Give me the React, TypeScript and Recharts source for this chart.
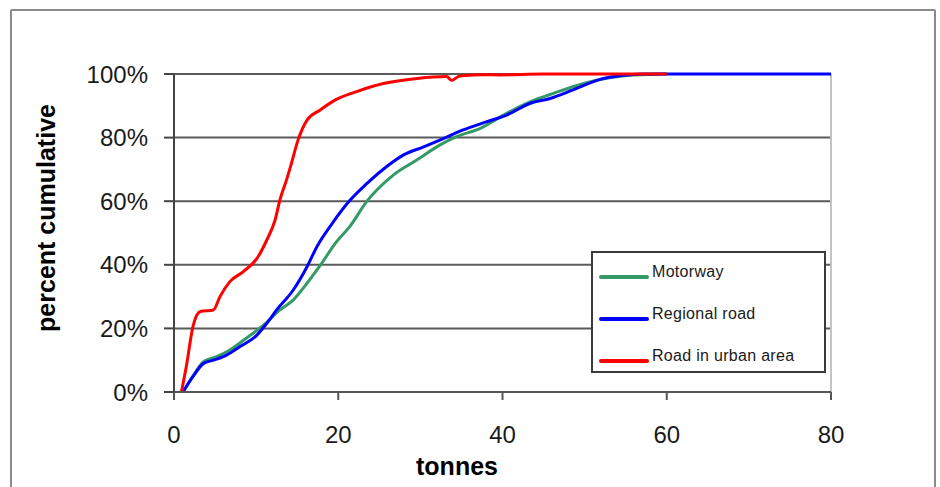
import React from "react";
import {
  LineChart,
  Line,
  XAxis,
  YAxis,
  CartesianGrid,
  Legend,
  Label,
  ReferenceLine,
} from "recharts";

// cumulative distribution of vehicle weight per road type
const motorwayTonnes = [1.1, 2.3, 3.6, 5.2, 6.8, 8.8, 10.9, 12.9, 14.5, 16.2, 17.8, 19.8, 21.4, 23.5, 26.7, 29.6, 32.4, 34.4, 37.3, 40.5, 43.4, 46.2, 49.9, 53, 56, 60];
const motorwayPct = [0, 5, 9.5, 11.1, 13.2, 16.9, 21, 25.8, 28.9, 34.2, 39.8, 47.3, 52, 60, 68.2, 73, 77.7, 80.3, 82.9, 87.6, 91.3, 93.9, 97, 98.8, 99.7, 100];

const regionalTonnes = [1.1, 2.3, 3.6, 4.8, 6.4, 8, 10.1, 11.3, 12.5, 14.5, 16.2, 17.4, 19.4, 21.4, 23.5, 25.9, 27.9, 30.4, 32.8, 35.2, 38.1, 40.5, 43.4, 45.8, 48.6, 51.9, 54.5, 57, 80];
const regionalPct = [0, 4.8, 9, 10, 11.6, 14.2, 17.9, 21.6, 25.8, 32, 39.4, 45.7, 53.5, 60.2, 65.6, 70.9, 74.5, 77.1, 79.7, 82.4, 85, 87.1, 90.8, 92.3, 95, 98.3, 99.5, 100, 100];

const urbanTonnes = [0.9, 1.5, 2.3, 3.2, 4.8, 5.6, 6.8, 8.4, 10.1, 11.3, 12.3, 12.9, 13.7, 14.3, 15.1, 16.2, 17.8, 19.6, 22.5, 25.5, 29.6, 33.2, 33.8, 34.8, 37.7, 39.7, 45, 60];
const urbanPct = [0, 8, 20.5, 25.3, 25.8, 30, 34.7, 37.8, 42, 47.8, 54, 60.4, 66.7, 71.9, 79.2, 85.5, 88.7, 91.8, 94.7, 97, 98.6, 99.2, 98, 99.4, 99.8, 99.7, 100, 100];

const xTicks = [0, 20, 40, 60, 80];
const yTicks = [0, 20, 40, 60, 80, 100];

const toPoints = (xs: number[], ys: number[]) => xs.map((x, i) => ({ x, y: ys[i] }));

const series = [
  { name: "Motorway", color: "#339966", data: toPoints(motorwayTonnes, motorwayPct) },
  { name: "Regional road", color: "#0000FF", data: toPoints(regionalTonnes, regionalPct) },
  { name: "Road in urban area", color: "#FF0000", data: toPoints(urbanTonnes, urbanPct) },
];

const FONT = "'Liberation Sans', Arial, sans-serif";

const LegendBox = () => (
  <div
    style={{
      width: 231,
      height: 118,
      border: "2px solid #3a3a3a",
      background: "#fff",
      fontFamily: FONT,
      fontSize: 16,
      color: "#1a1a1a",
      position: "relative",
    }}
  >
    {series.map((s, i) => (
      <div key={s.name} style={{ position: "absolute", left: 6, top: 10 + i * 42, display: "flex" }}>
        <div style={{ width: 50, height: 4, borderRadius: 2, background: s.color, marginTop: 12 }} />
        <span style={{ marginLeft: 3, letterSpacing: 0.3 }}>{s.name}</span>
      </div>
    ))}
  </div>
);

export default function App() {
  return (
    <div style={{ position: "absolute", left: 0, top: 0, width: 940, height: 487, overflow: "hidden", background: "#fff" }}>
      <div
        style={{
          position: "absolute",
          left: 10,
          top: 9,
          width: 922,
          height: 520,
          border: "2px solid #8a8a8a",
          borderRadius: 2,
        }}
      />
      <div style={{ position: "absolute", left: 0, top: 0 }}>
        <LineChart width={940} height={487} margin={{ top: 74, right: 109, bottom: 0, left: 34 }}>
          <CartesianGrid horizontal vertical={false} stroke="#5a5a5a" strokeWidth={2} />
          <ReferenceLine x={80} stroke="#c4c4c4" strokeWidth={2} />
          <XAxis
            type="number"
            dataKey="x"
            domain={[0, 80]}
            ticks={xTicks}
            height={95}
            tickSize={8}
            tickMargin={26}
            stroke="#555"
            strokeWidth={2}
            tick={{ fill: "#1a1a1a", fontSize: 24, fontFamily: FONT }}
          >
            <Label
              content={() => (
                <text x={457} y={475} textAnchor="middle" fontFamily={FONT} fontWeight="bold" fontSize={25} fill="#000">
                  tonnes
                </text>
              )}
            />
          </XAxis>
          <YAxis
            type="number"
            domain={[0, 100]}
            ticks={yTicks}
            width={140}
            tickSize={10}
            tickMargin={16}
            tickFormatter={(v: number) => `${v}%`}
            stroke="#444"
            strokeWidth={2}
            tick={{ fill: "#1a1a1a", fontSize: 24, fontFamily: FONT }}
          >
            <Label
              content={() => (
                <text
                  x={55}
                  y={218}
                  transform="rotate(-90 55 218)"
                  textAnchor="middle"
                  fontFamily={FONT}
                  fontWeight="bold"
                  fontSize={25}
                  fill="#000"
                >
                  percent cumulative
                </text>
              )}
            />
          </YAxis>
          {series.map((s) => (
            <Line
              key={s.name}
              data={s.data}
              dataKey="y"
              name={s.name}
              type="monotone"
              stroke={s.color}
              strokeWidth={3}
              dot={false}
              activeDot={false}
              isAnimationActive={false}
            />
          ))}
          <Legend
            layout="vertical"
            align="center"
            verticalAlign="middle"
            wrapperStyle={{ position: "absolute", left: 591, top: 251, width: 235, height: 122 }}
            content={() => <LegendBox />}
          />
        </LineChart>
      </div>
    </div>
  );
}
